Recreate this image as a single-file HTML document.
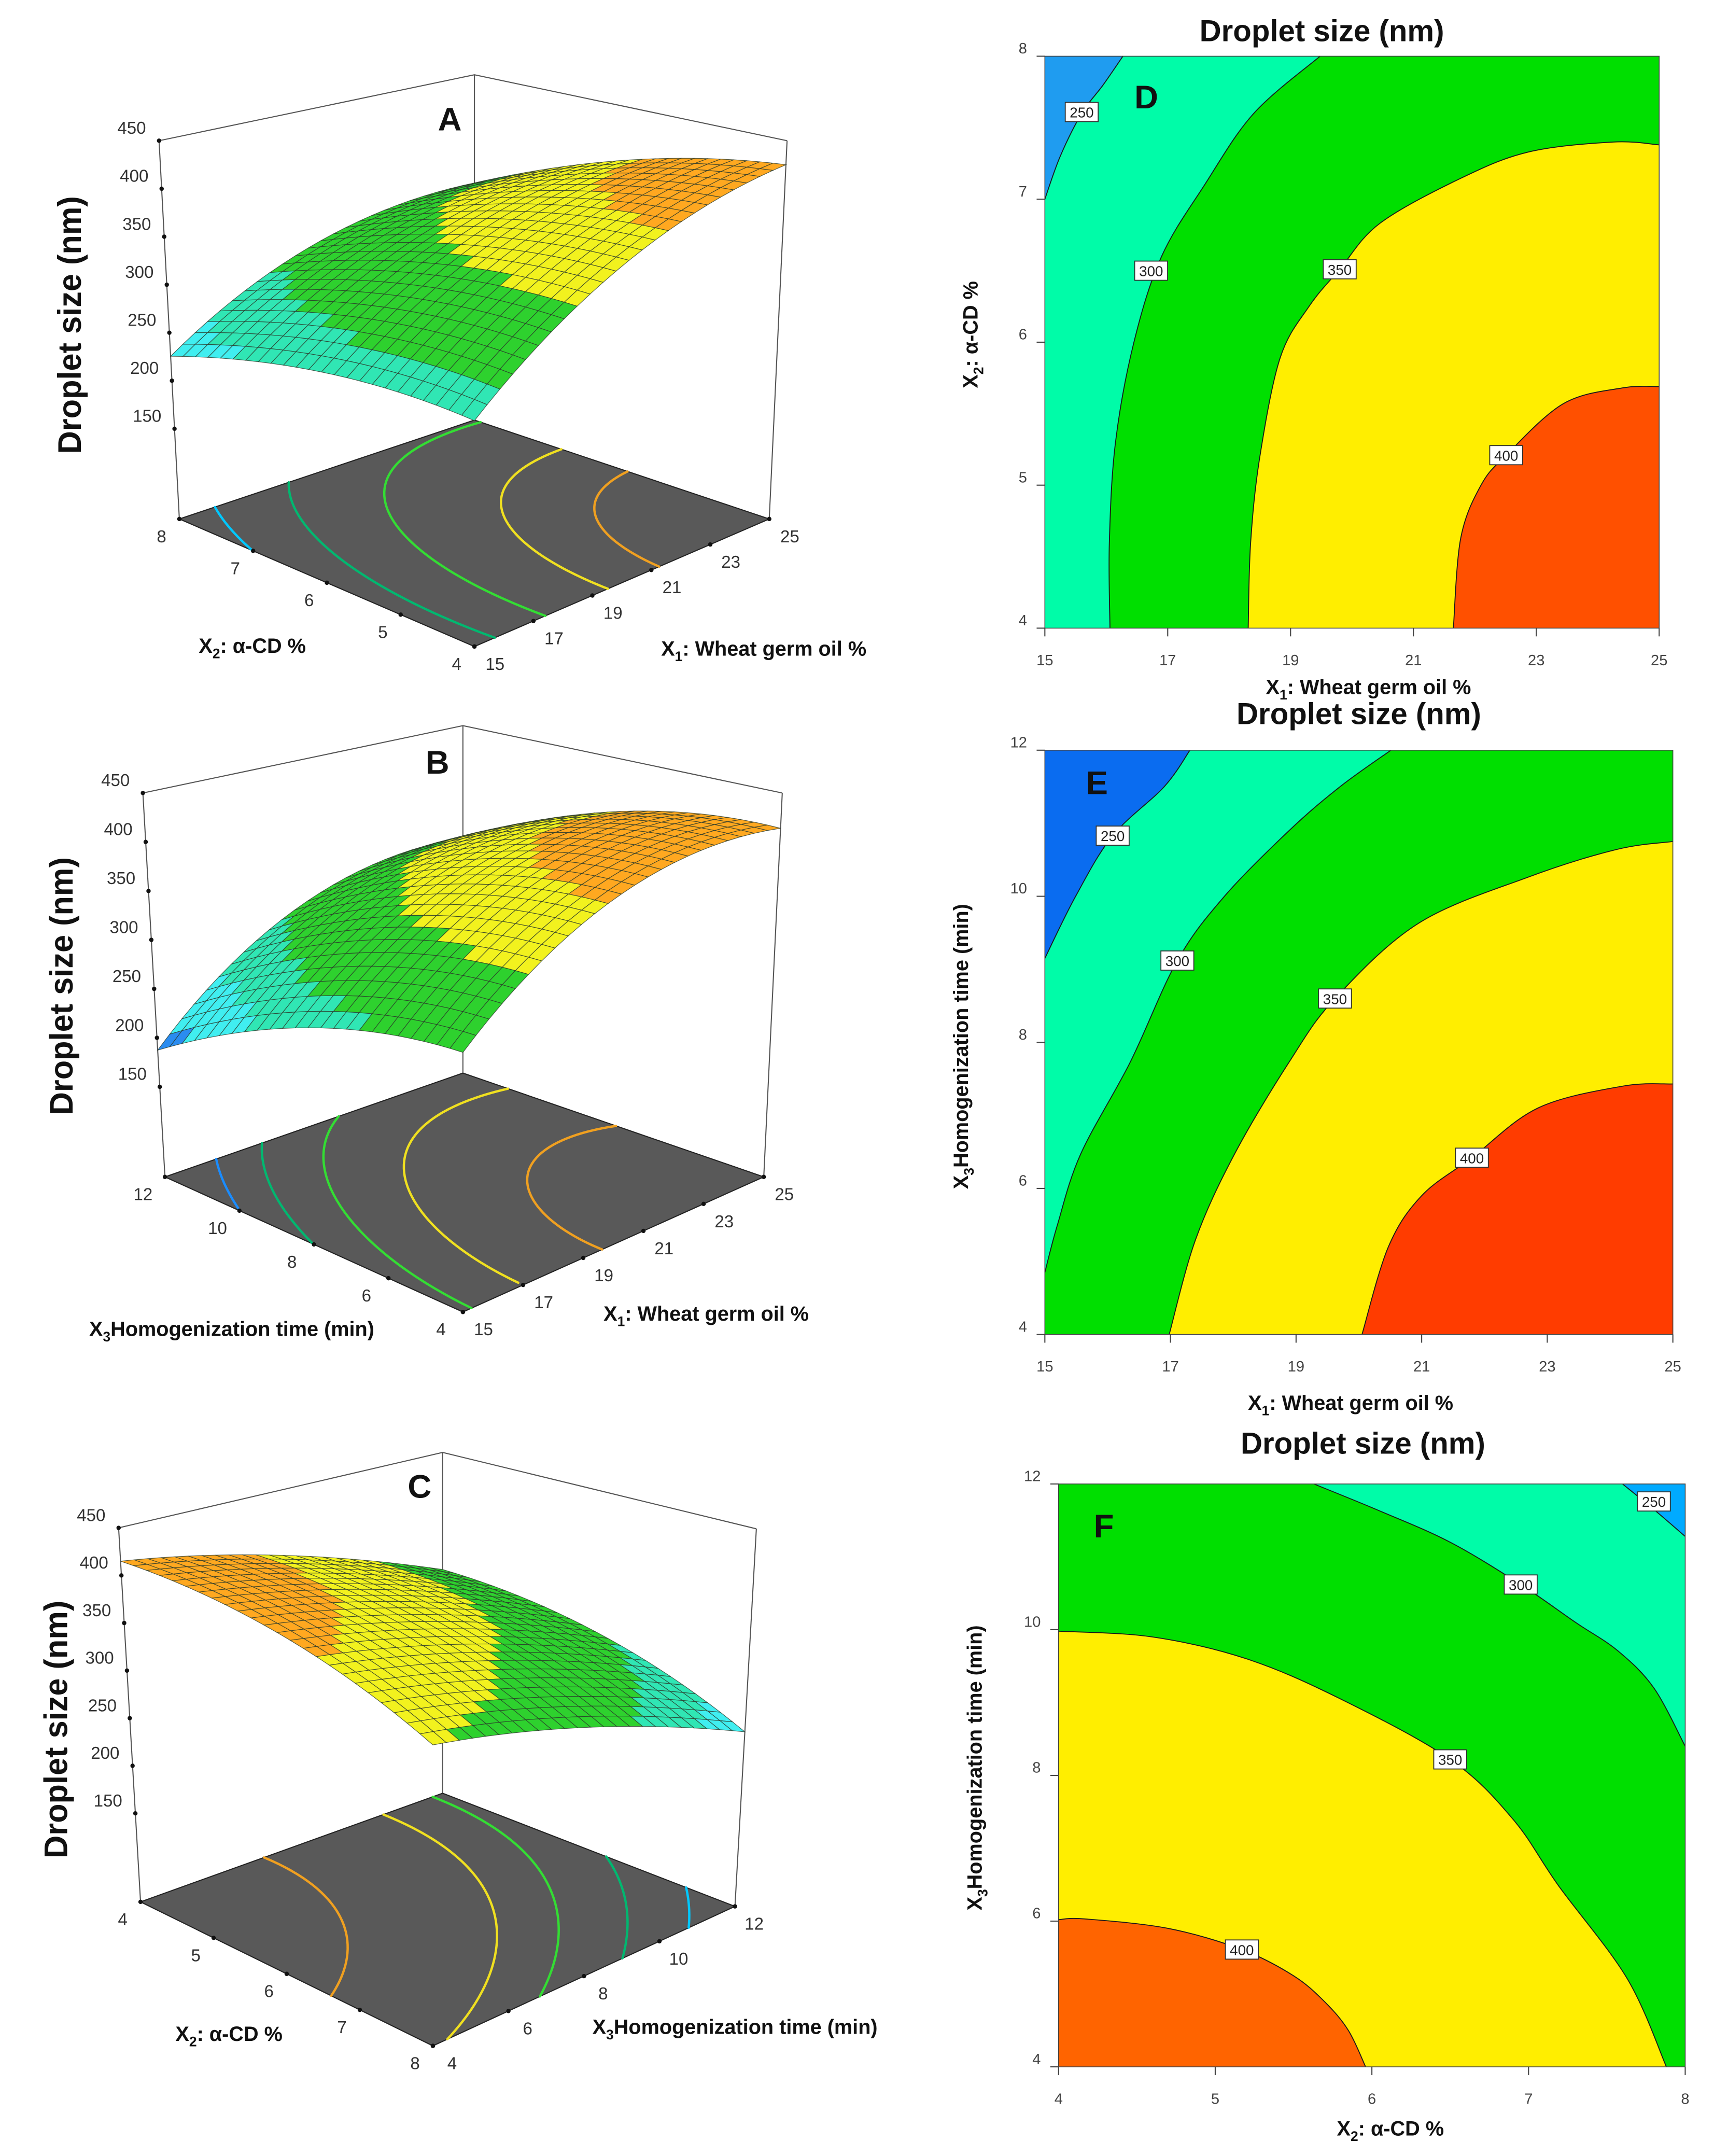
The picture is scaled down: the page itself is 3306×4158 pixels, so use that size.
<!DOCTYPE html>
<html><head><meta charset="utf-8"><title>Droplet size response surfaces</title>
<style>
html,body{margin:0;padding:0;background:#fff;}
svg{display:block;font-family:"Liberation Sans",Arial,sans-serif;}
.tk{font-size:12.5px;fill:#333;}
.ctk{font-size:11px;fill:#444;}
.ax{font-size:15px;font-weight:bold;fill:#111;}
.big{font-size:24px;font-weight:bold;fill:#111;}
.ttl{font-size:22px;font-weight:bold;fill:#111;}
.let{font-size:24px;font-weight:bold;fill:#111;}
</style></head>
<body>
<svg id="s" xmlns="http://www.w3.org/2000/svg" viewBox="0 0 1250 1572" width="3306" height="4158" preserveAspectRatio="none">
<rect x="0" y="0" width="1250" height="1572" fill="#fff"/>
<g id="g3d"></g>
<g id="g2d"></g>
<text class="let" x="328" y="95" text-anchor="middle">A</text>
<text class="let" x="319" y="564" text-anchor="middle">B</text>
<text class="let" x="306" y="1092" text-anchor="middle">C</text>
<text class="big" transform="translate(59,237) rotate(-90)" text-anchor="middle" textLength="188" lengthAdjust="spacingAndGlyphs">Droplet size (nm)</text>
<text class="big" transform="translate(53,719) rotate(-90)" text-anchor="middle" textLength="188" lengthAdjust="spacingAndGlyphs">Droplet size (nm)</text>
<text class="big" transform="translate(49,1261) rotate(-90)" text-anchor="middle" textLength="188" lengthAdjust="spacingAndGlyphs">Droplet size (nm)</text>
<text class="ax" x="184" y="476" text-anchor="middle">X<tspan font-size="10" dy="4">2</tspan><tspan dy="-4">: α-CD %</tspan></text>
<text class="ax" x="557" y="478" text-anchor="middle">X<tspan font-size="10" dy="4">1</tspan><tspan dy="-4">: Wheat germ oil %</tspan></text>
<text class="ax" x="169" y="974" text-anchor="middle">X<tspan font-size="10" dy="4">3</tspan><tspan dy="-4">Homogenization time (min)</tspan></text>
<text class="ax" x="515" y="963" text-anchor="middle">X<tspan font-size="10" dy="4">1</tspan><tspan dy="-4">: Wheat germ oil %</tspan></text>
<text class="ax" x="167" y="1488" text-anchor="middle">X<tspan font-size="10" dy="4">2</tspan><tspan dy="-4">: α-CD %</tspan></text>
<text class="ax" x="536" y="1483" text-anchor="middle">X<tspan font-size="10" dy="4">3</tspan><tspan dy="-4">Homogenization time (min)</tspan></text>
<text class="ttl" x="964" y="30" text-anchor="middle">Droplet size (nm)</text>
<text class="ttl" x="991" y="528" text-anchor="middle">Droplet size (nm)</text>
<text class="ttl" x="994" y="1060" text-anchor="middle">Droplet size (nm)</text>
<text class="let" x="836" y="79" text-anchor="middle">D</text>
<text class="let" x="800" y="579" text-anchor="middle">E</text>
<text class="let" x="805" y="1121" text-anchor="middle">F</text>
<text class="ax" x="998" y="506" text-anchor="middle">X<tspan font-size="10" dy="4">1</tspan><tspan dy="-4">: Wheat germ oil %</tspan></text>
<text class="ax" x="985" y="1028" text-anchor="middle">X<tspan font-size="10" dy="4">1</tspan><tspan dy="-4">: Wheat germ oil %</tspan></text>
<text class="ax" x="1014" y="1557" text-anchor="middle">X<tspan font-size="10" dy="4">2</tspan><tspan dy="-4">: α-CD %</tspan></text>
<text class="ax" transform="translate(713,244) rotate(-90)" text-anchor="middle">X<tspan font-size="10" dy="4">2</tspan><tspan dy="-4">: α-CD %</tspan></text>
<text class="ax" transform="translate(706,763) rotate(-90)" text-anchor="middle">X<tspan font-size="10" dy="4">3</tspan><tspan dy="-4">Homogenization time (min)</tspan></text>
<text class="ax" transform="translate(716,1289) rotate(-90)" text-anchor="middle">X<tspan font-size="10" dy="4">3</tspan><tspan dy="-4">Homogenization time (min)</tspan></text>
</svg>
<script>
// ===== Contour plot data =====
const levelsD = [250, 300, 350, 400];
const D250 = [[16.27,8],[15.95,7.8],[15.6,7.6],[15.25,7.3],[15,7.0]];
const D300 = [[19.48,8],[18.4,7.6],[17.6,7.1],[16.9,6.6],[16.45,6.0],[16.15,5.3],[16.05,4.6],[16.06,4]];
const D350 = [[18.31,4],[18.35,4.6],[18.5,5.2],[18.83,5.89],[19.3,6.25],[19.8,6.51],[20.45,6.83],[21.74,7.14],[22.87,7.33],[24.25,7.4],[25,7.38]];
const D400 = [[21.65,4],[21.77,4.63],[22.1,5.0],[22.51,5.21],[23.44,5.57],[24.4,5.68],[25,5.69]];
const D_close = [[[15,4],[25,4],[25,8]], [[25,4],[25,8]], [[25,4]], [[25,4]]];
const D_labels = [[15.6,7.61],[16.73,6.5],[19.8,6.51],[22.51,5.21]];
const D_xticks = [15,17,19,21,23,25];
const D_yticks = [4,5,6,7,8];

const levelsE = [250, 300, 350, 400];
const E250 = [[17.31,12],[16.9,11.5],[16.08,10.83],[15.49,10.0],[15,9.15]];
const E300 = [[20.51,12],[19.7,11.5],[18.89,10.9],[17.86,10.0],[17.11,9.12],[16.36,7.73],[15.57,6.47],[15.2,5.5],[15,4.85]];
const E350 = [[16.98,4],[17.4,5.3],[18.02,6.47],[18.89,7.73],[19.62,8.6],[20.95,9.63],[22.69,10.26],[24.1,10.64],[25,10.75]];
const E400 = [[20.05,4],[20.47,5.2],[21.0,5.9],[21.8,6.42],[22.85,7.1],[24.2,7.4],[25,7.43]];
const E_close = [[[15,4],[25,4],[25,12]], [[15,4],[25,4],[25,12]], [[25,4]], [[25,4]]];
const E_labels = [[16.08,10.83],[17.11,9.12],[19.62,8.6],[21.8,6.42]];
const E_xticks = [15,17,19,21,23,25];
const E_yticks = [4,6,8,10,12];

const levelsF = [250, 300, 350, 400];
const F250 = [[7.6,12],[7.8,11.65],[8,11.28]];
const F300 = [[5.63,12],[6.05,11.63],[6.5,11.2],[6.95,10.62],[7.3,10.1],[7.57,9.71],[7.8,9.2],[8,8.4]];
const F350 = [[4,9.98],[4.6,9.9],[5.2,9.6],[5.79,9.06],[6.5,8.22],[6.9,7.4],[7.19,6.49],[7.63,5.21],[7.88,4]];
const F400 = [[4,6.02],[4.17,6.03],[4.7,5.9],[5.17,5.61],[5.5,5.25],[5.7,4.89],[5.85,4.5],[5.96,4]];
const F_close = [[[8,4],[4,4],[4,12]], [[8,4],[4,4],[4,12]], [[4,4]], [[4,4]]];
const F_labels = [[7.8,11.76],[6.95,10.62],[6.5,8.22],[5.17,5.61]];
const F_xticks = [4,5,6,7,8];
const F_yticks = [4,6,8,10,12];

// ===== 3D response-surface model coefficients [a, bp, bq, bpp, bqq, bpq] (normalized coords) =====
const coefA = [272, 269, 23, -116, -69.5, -52];
const coefB = [300, 284, -10.6, -170, -102, 22];
const coefC = [415, 6.5, -46.7, -75.8, -53.3, -7];
const zTicks = [150, 200, 250, 300, 350, 400, 450];
const floorLevelsA = [250, 290, 330, 370, 395];
const floorLevelsB = [235, 269, 308, 350, 395];
const floorLevelsC = [262, 291, 320, 343, 387];
const bandEdgesA = [250, 290, 350, 395];
const bandEdgesB = [210, 250, 290, 350, 395];
const bandEdgesC = [262, 291, 343, 387];
const A_pTicks = [15,17,19,21,23,25];
const A_qTicks = [4,5,6,7,8];
const B_pTicks = [15,17,19,21,23,25];
const B_qTicks = [4,6,8,10,12];
const C_pTicks = [4,5,6,7,8];
const C_qTicks = [4,6,8,10,12];

const NS = 'http://www.w3.org/2000/svg';
function mk(parent, tag, attrs) {
  const el = document.createElementNS(NS, tag);
  for (const k in attrs) el.setAttribute(k, attrs[k]);
  parent.appendChild(el);
  return el;
}
// Catmull-Rom smooth path through screen points (no leading M)
function smooth(P) {
  let d = '';
  for (let i = 0; i < P.length - 1; i++) {
    const p0 = P[i - 1] || P[i], p1 = P[i], p2 = P[i + 1], p3 = P[i + 2] || p2;
    const c1 = [p1[0] + (p2[0] - p0[0]) / 6, p1[1] + (p2[1] - p0[1]) / 6];
    const c2 = [p2[0] - (p3[0] - p1[0]) / 6, p2[1] - (p3[1] - p1[1]) / 6];
    d += 'C' + c1[0].toFixed(2) + ',' + c1[1].toFixed(2) + ' ' + c2[0].toFixed(2) + ',' + c2[1].toFixed(2) + ' ' + p2[0].toFixed(2) + ',' + p2[1].toFixed(2);
  }
  return d;
}

// ===== Contour plots =====
function drawContour(id, g, box, xr, yr, curves, closes, levels, colors, labels, xt, yt) {
  const sx = v => box.x0 + (v - xr[0]) / (xr[1] - xr[0]) * (box.x1 - box.x0);
  const sy = v => box.y1 - (v - yr[0]) / (yr[1] - yr[0]) * (box.y1 - box.y0);
  const grp = mk(g, 'g', {});
  
  
  const bg = mk(grp, 'rect', {x: box.x0, y: box.y0, width: box.x1 - box.x0, height: box.y1 - box.y0, fill: colors[0]});
  
  
  const scr = c => c.map(p => [sx(p[0]), sy(p[1])]);
  curves.forEach((c, i) => {
    const sp = scr(c);
    let d = 'M' + sp[0][0].toFixed(2) + ',' + sp[0][1].toFixed(2) + smooth(sp);
    closes[i].forEach(p => { d += 'L' + sx(p[0]).toFixed(2) + ',' + sy(p[1]).toFixed(2); });
    d += 'Z';
    const poly = mk(grp, 'path', {d: d, fill: colors[i + 1]});
    
    
  });
  curves.forEach((c, i) => {
    const sp = scr(c);
    const pl = mk(grp, 'path', {d: 'M' + sp[0][0].toFixed(2) + ',' + sp[0][1].toFixed(2) + smooth(sp), fill: 'none', stroke: '#1a1a1a', 'stroke-width': 0.7});
    
    
  });
  labels.forEach((p, i) => {
    const lx = sx(p[0]), ly = sy(p[1]);
    const r = mk(grp, 'rect', {x: lx - 12, y: ly - 7, width: 24, height: 14, fill: '#fff', stroke: '#333', 'stroke-width': 0.7});
    
    
    const t = mk(grp, 'text', {x: lx, y: ly + 4, 'text-anchor': 'middle', 'font-size': 10.5, fill: '#222'});
    t.textContent = levels[i];
    
    
  });
  const frame = mk(grp, 'rect', {x: box.x0, y: box.y0, width: box.x1 - box.x0, height: box.y1 - box.y0, fill: 'none', stroke: '#444', 'stroke-width': 0.6});
  
  
  xt.forEach(v => {
    const l = mk(grp, 'line', {x1: sx(v), x2: sx(v), y1: box.y1, y2: box.y1 + 6, stroke: '#444', 'stroke-width': 0.8});
    
    
    const t = mk(grp, 'text', {x: sx(v), y: box.y1 + 27, 'text-anchor': 'middle', class: 'ctk'});
    t.textContent = v;
    
    
  });
  yt.forEach(v => {
    const l = mk(grp, 'line', {x1: box.x0 - 6, x2: box.x0, y1: sy(v), y2: sy(v), stroke: '#444', 'stroke-width': 0.8});
    
    
    const t = mk(grp, 'text', {x: box.x0 - 13, y: sy(v) - 2, 'text-anchor': 'end', class: 'ctk'});
    t.textContent = v;
    
    
  });
}
const g2d = document.getElementById('g2d');
drawContour('d', g2d, {x0:762, x1:1210, y0:41, y1:458}, [15,25], [4,8], [D250,D300,D350,D400], D_close, levelsD,
  ['#1f9cf0','#00fca8','#00df00','#ffee00','#ff5000'], D_labels, D_xticks, D_yticks);
drawContour('e', g2d, {x0:762, x1:1220, y0:547, y1:973}, [15,25], [4,12], [E250,E300,E350,E400], E_close, levelsE,
  ['#0a6cf0','#00fca8','#00df00','#ffee00','#ff3c00'], E_labels, E_xticks, E_yticks);
drawContour('f', g2d, {x0:772, x1:1229, y0:1082, y1:1507}, [4,8], [4,12], [F250,F300,F350,F400], F_close, levelsF,
  ['#00aaff','#00fca8','#00df00','#ffee00','#ff6400'], F_labels, F_xticks, F_yticks);

// ===== 3D surface plots =====
function model(c, p, q) { return c[0] + c[1]*p + c[2]*q + c[3]*p*p + c[4]*q*q + c[5]*p*q; }
function bil(C, p, q) {
  return [
    C[0][0]*(1-p)*(1-q) + C[1][0]*p*(1-q) + C[2][0]*(1-p)*q + C[3][0]*p*q,
    C[0][1]*(1-p)*(1-q) + C[1][1]*p*(1-q) + C[2][1]*(1-p)*q + C[3][1]*p*q
  ];
}
function makeProj(P) {
  return (p, q, z) => {
    const f = bil(P.floor, p, q), t = bil(P.top, p, q);
    const k = (z - P.zmin) / (P.zmax - P.zmin);
    return [f[0] + (t[0] - f[0]) * k, f[1] + (t[1] - f[1]) * k];
  };
}
function colorFor(z, edges, cols) { let i = 0; while (i < edges.length && z >= edges[i]) i++; return cols[i]; }

function draw3D(id, P, coef, floorLevels, floorColors, bandEdges, bandColors, pT, pR, qT, qR, front) {
  const g = mk(document.getElementById('g3d'), 'g', {});
  
  
  const pr = makeProj(P);
  const pt = a => a[0].toFixed(2) + ',' + a[1].toFixed(2);
  const F = P.floor, T = P.top;
  [P.L, P.B, P.R].forEach(i => {
    const l = mk(g, 'line', {x1: F[i][0], y1: F[i][1], x2: T[i][0], y2: T[i][1], stroke: '#555', 'stroke-width': 0.8});
    
    
  });
  const tl = mk(g, 'polyline', {points: [T[P.L], T[P.B], T[P.R]].map(pt).join(' '), fill: 'none', stroke: '#555', 'stroke-width': 0.8});
  
  
  const fl = mk(g, 'polygon', {points: [F[0], F[1], F[3], F[2]].map(pt).join(' '), fill: '#595959', stroke: '#222', 'stroke-width': 0.8});
  
  
  const G = 60;
  const val = [];
  for (let i = 0; i <= G; i++) { val.push([]); for (let j = 0; j <= G; j++) val[i].push(model(coef, i / G, j / G)); }
  floorLevels.forEach((lev, li) => {
    let d = '';
    for (let i = 0; i < G; i++) for (let j = 0; j < G; j++) {
      const corners = [[i, j], [i + 1, j], [i + 1, j + 1], [i, j + 1]];
      const cross = [];
      for (let e = 0; e < 4; e++) {
        const a = corners[e], b = corners[(e + 1) % 4];
        const va = val[a[0]][a[1]], vb = val[b[0]][b[1]];
        if ((va - lev) * (vb - lev) < 0) {
          const t = (lev - va) / (vb - va);
          cross.push([(a[0] + (b[0] - a[0]) * t) / G, (a[1] + (b[1] - a[1]) * t) / G]);
        }
      }
      if (cross.length >= 2) {
        const s = pr(cross[0][0], cross[0][1], P.zmin), e2 = pr(cross[1][0], cross[1][1], P.zmin);
        d += 'M' + pt(s) + 'L' + pt(e2);
      }
    }
    const path = mk(g, 'path', {d: d, stroke: floorColors[li], 'stroke-width': 1.7, fill: 'none', 'stroke-linecap': 'round'});
    
    
  });
  const N = 24;
  const quads = [];
  for (let i = 0; i < N; i++) for (let j = 0; j < N; j++) {
    const p0 = i / N, p1 = (i + 1) / N, q0 = j / N, q1 = (j + 1) / N;
    const zs = [model(coef, p0, q0), model(coef, p1, q0), model(coef, p1, q1), model(coef, p0, q1)];
    const pc = (p0 + p1) / 2, qc = (q0 + q1) / 2;
    const depth = Math.abs(pc - front[0]) + Math.abs(qc - front[1]);
    quads.push({pts: [pr(p0, q0, zs[0]), pr(p1, q0, zs[1]), pr(p1, q1, zs[2]), pr(p0, q1, zs[3])], z: (zs[0] + zs[1] + zs[2] + zs[3]) / 4, depth: depth});
  }
  quads.sort((a, b) => b.depth - a.depth);
  const sg = mk(g, 'g', {});
  
  
  quads.forEach(qd => {
    const poly = mk(sg, 'polygon', {points: qd.pts.map(pt).join(' '), fill: colorFor(qd.z, bandEdges, bandColors), stroke: '#2a3a2a', 'stroke-width': 0.45, 'stroke-opacity': 0.8});
    
    
  });
  const lp = P.Lpq;
  zTicks.forEach(z => {
    const a = pr(lp[0], lp[1], z);
    const c = mk(g, 'circle', {cx: a[0], cy: a[1], r: 1.6, fill: '#111'});
    
    
    const t = mk(g, 'text', {x: a[0] - 20, y: a[1] - 5, 'text-anchor': 'middle', class: 'tk'});
    t.textContent = z;
    
    
  });
  pT.forEach(v => {
    const s = (v - pR[0]) / (pR[1] - pR[0]);
    const a = P.pAxis(s);
    const c = mk(g, 'circle', {cx: a[0], cy: a[1], r: 1.6, fill: '#111'});
    
    
    const t = mk(g, 'text', {x: a[0] + P.pOff[0], y: a[1] + P.pOff[1] + 5, 'text-anchor': 'middle', class: 'tk'});
    t.textContent = v;
    
    
  });
  qT.forEach(v => {
    const s = (v - qR[0]) / (qR[1] - qR[0]);
    const a = P.qAxis(s);
    const c = mk(g, 'circle', {cx: a[0], cy: a[1], r: 1.6, fill: '#111'});
    
    
    const t = mk(g, 'text', {x: a[0] + P.qOff[0], y: a[1] + P.qOff[1] + 5, 'text-anchor': 'middle', class: 'tk'});
    t.textContent = v;
    
    
  });
}

const cyanC = '#40eef0', turqC = '#30e6b4', greenC = '#2ed12e', yellowC = '#f2f21e', orangeC = '#ffa820', blueC = '#2a8cf0';

const PA = {floor: [[346,471.4],[561,378.4],[130.8,378.4],[346,306.3]], top: [[346,171],[574,102.6],[116,102.6],[346,54.5]], zmin: 56, zmax: 450, L: 2, B: 3, R: 1, Lpq: [0,1]};
PA.pAxis = s => bil(PA.floor, s, 0); PA.qAxis = s => bil(PA.floor, 0, s); PA.pOff = [15,12]; PA.qOff = [-13,12];
draw3D('a', PA, coefA, floorLevelsA, ['#00c8ff','#00b870','#33dd33','#f0e020','#f0a020'], bandEdgesA, [cyanC, turqC, greenC, yellowC, orangeC], A_pTicks, [15,25], A_qTicks, [4,8], [0,0]);

const PB = {floor: [[337.6,956.6],[557,858.1],[120.3,858.1],[337.6,782.4]], top: [[337.6,650],[570.5,578.2],[104.2,578.2],[337.6,529.1]], zmin: 58, zmax: 450, L: 2, B: 3, R: 1, Lpq: [0,1]};
PB.pAxis = s => bil(PB.floor, s, 0); PB.qAxis = s => bil(PB.floor, 0, s); PB.pOff = [15,12]; PB.qOff = [-16,12];
draw3D('b', PB, coefB, floorLevelsB, ['#1a8cff','#00b870','#33dd33','#f0e020','#f0a020'], bandEdgesB, [blueC, cyanC, turqC, greenC, yellowC, orangeC], B_pTicks, [15,25], B_qTicks, [4,12], [0,0]);

const PC = {floor: [[102.5,1386.7],[315.7,1491.7],[322.8,1307.5],[536,1390]], top: [[86.5,1114],[315.7,1193],[322.8,1059],[551.6,1114.7]], zmin: 57, zmax: 450, L: 0, B: 2, R: 3, Lpq: [0,0]};
PC.pAxis = s => bil(PC.floor, s, 0); PC.qAxis = s => bil(PC.floor, 1, s); PC.pOff = [-13,12]; PC.qOff = [14,12];
draw3D('c', PC, coefC, floorLevelsC, ['#00c8ff','#00b870','#33dd33','#f0e020','#f0a020'], bandEdgesC, [cyanC, turqC, greenC, yellowC, orangeC], C_pTicks, [4,8], C_qTicks, [4,12], [1,0]);
</script>
</body></html>
